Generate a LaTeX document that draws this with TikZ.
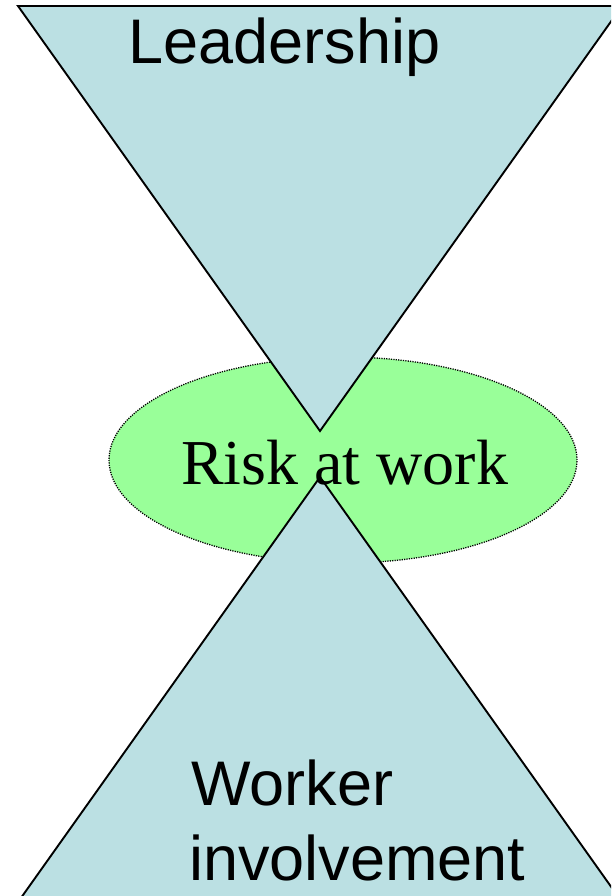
\documentclass[tikz,border=0pt]{standalone}
\usepackage{fontspec}
\usetikzlibrary{shapes.geometric}
\setmainfont{Liberation Serif}
\newfontfamily\arialfont{Liberation Sans}
\definecolor{triblue}{HTML}{BBE0E3}
\definecolor{riskgreen}{HTML}{99FF99}
\begin{document}
\begin{tikzpicture}[x=1pt,y=-1pt,
  tri/.style={draw=black,fill=triblue,line width=1.9pt,line join=miter},
  sanslabel/.style={font=\arialfont\fontsize{63}{75}\selectfont,inner sep=0pt,anchor=base west},
  serlabel/.style={font=\fontsize{64}{75}\selectfont,inner sep=0pt,anchor=base west}]
\useasboundingbox (0,0) rectangle (611,896);
\clip (0,0) rectangle (611,896);
\fill[white] (0,0) rectangle (611,896);
% ellipse
\node[draw=black,dash pattern=on 1.2pt off 1.2pt,line width=1.3pt,fill=riskgreen,ellipse,
  minimum width=468pt,minimum height=206pt,inner sep=0pt] (risk) at (343,460) {};
% triangles
\coordinate (tl) at (18,6);
\coordinate (tr) at (622,6);
\coordinate (tapex) at (320,431);
\coordinate (bapex) at (320,477);
\coordinate (bl) at (19.5,900);
\coordinate (br) at (620.5,900);
\draw[tri] (tl) -- (tr) -- (tapex) -- cycle;
\draw[tri] (bapex) -- (br) -- (bl) -- cycle;
% labels
\node[sanslabel] (lead) at (128.5,64) {Leadership};
\node[serlabel] (risktext) at (181,484) {Risk at work};
\node[sanslabel] (worker) at (191,805) {Worker};
\node[sanslabel] (involve) at (189,880) {involvement};
\end{tikzpicture}
\end{document}
